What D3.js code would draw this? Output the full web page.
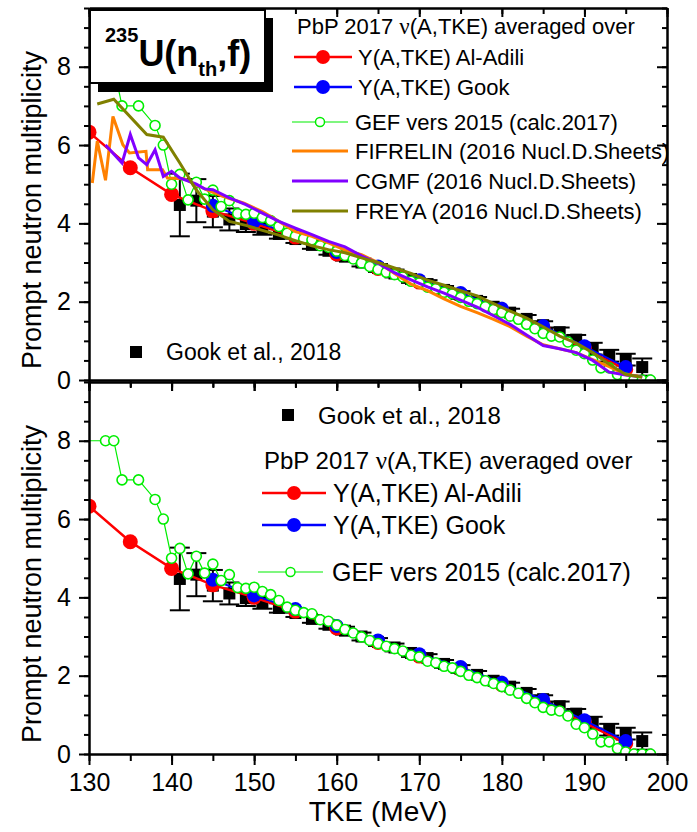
<!DOCTYPE html>
<html><head><meta charset="utf-8">
<script src="https://cdn.jsdelivr.net/npm/d3@7"></script>
<style>
body{margin:0;background:#fff}
text{font-family:"Liberation Sans",Arial,Helvetica,sans-serif;fill:#000}
</style>
</head><body>
<svg id="chart" width="697" height="832"></svg>
<script>
// ---- data: prompt neutron multiplicity vs total kinetic energy, 235U(nth,f) ----
// Point-by-point (PbP 2017) averaged over Y(A,TKE) of Al-Adili
const tkeAlAdili = [130,135,140,145,150,155,160,165,170,175,180,185,190,195];
const nuAlAdili  = [6.33,5.42,4.74,4.32,4.00,3.65,3.22,2.85,2.50,2.17,1.77,1.32,0.80,0.27];
// PbP 2017 averaged over Y(A,TKE) of Gook
const tkeGookY = [145,150,155,160,165,170,175,180,185,190,195];
const nuGookY  = [4.45,4.05,3.70,3.27,2.90,2.55,2.22,1.82,1.38,0.86,0.33];
// Gook et al., 2018 experimental points with uncertainties
const tkeExp = [141,143,145,147,149,151,153,155,157,159,161,163,165,167,169,171,173,175,177,179,181,183,185,187,189,191,193,195,197];
const nuExp  = [4.47,4.58,4.30,4.10,3.98,3.86,3.73,3.60,3.45,3.30,3.15,3.00,2.86,2.72,2.58,2.45,2.30,2.17,2.02,1.87,1.72,1.56,1.40,1.22,1.03,0.80,0.62,0.52,0.33];
const errExp = [0.80,0.55,0.40,0.28,0.20,0.15,0.12,0.10,0.10,0.10,0.10,0.10,0.10,0.10,0.10,0.10,0.10,0.10,0.10,0.10,0.10,0.10,0.10,0.12,0.12,0.15,0.15,0.15,0.22];
// GEF vers 2015 (calc. 2017)
const tkeGEF = [128,132,133,134,136,138,139,140,141,142,143,144,145,146,147,148,149,150,151,152,153,154,155,156,157,158,159,160,161,162,163,164,165,166,167,168,169,170,171,172,173,174,175,176,177,178,179,180,181,182,183,184,185,186,187,188,189,190,191,192,193,194,195,196,197,198];
const nuGEF  = [8.00,8.00,8.00,7.00,7.00,6.50,6.00,5.00,5.25,4.60,5.05,4.62,4.85,4.43,4.58,4.25,4.23,4.26,4.15,4.07,3.92,3.75,3.67,3.61,3.58,3.43,3.39,3.29,3.18,3.09,2.99,2.90,2.82,2.75,2.69,2.63,2.52,2.48,2.37,2.33,2.24,2.20,2.11,2.01,1.95,1.87,1.80,1.72,1.63,1.55,1.42,1.31,1.19,1.12,1.10,0.97,0.76,0.67,0.51,0.31,0.31,0.14,0.05,0.00,0.00,0.00];
// FIFRELIN (2016 Nucl. Data Sheets)
const tkeFIF = [130.4,131,132,132.9,134.1,134.9,136.9,137.1,138.9,139.5,141.5,143,144.2,146.2,148.7,151,153,155,157,159,161,163,165,167,169,171,173,175,177,179,181,183,185,187,189,191,193,195,196.5];
const nuFIF  = [5.03,6.10,5.10,6.73,6.01,5.80,5.84,5.37,5.37,5.16,5.14,4.98,4.86,4.69,4.52,4.30,4.05,3.79,3.67,3.50,3.32,3.20,3.00,2.72,2.45,2.28,2.07,1.88,1.72,1.55,1.36,1.12,0.90,0.80,0.70,0.52,0.34,0.14,0.10];
// CGMF (2016 Nucl. Data Sheets)
const tkeCGMF = [132,134,135,136,137,138,139,140,141,143,144,145,147,149,151,153,155,157,159,161,163,165,167,169,171,173,175,177,179,181,183,185,187,189,191,193,195,197];
const nuCGMF  = [6.00,5.54,6.27,5.67,5.50,5.88,5.20,5.33,5.16,5.00,4.88,4.86,4.65,4.48,4.26,4.05,3.88,3.71,3.54,3.40,3.17,2.98,2.74,2.56,2.38,2.22,2.04,1.86,1.64,1.42,1.15,0.88,0.80,0.70,0.50,0.20,0.13,0.08];
// FREYA (2016 Nucl. Data Sheets)
const tkeFREYA = [131,133,137,139,141,143,145,147,149,151,153,155,157,159,161,163,165,167,169,171,173,175,177,179,181,183,185,187,189,191,193,195,197];
const nuFREYA  = [7.05,7.17,6.27,6.20,5.54,4.85,4.35,4.05,3.95,3.82,3.70,3.56,3.43,3.33,3.25,3.12,3.00,2.86,2.72,2.55,2.42,2.28,2.15,1.95,1.76,1.58,1.36,1.12,0.94,0.70,0.40,0.14,0.07];

// axis ticks
const xMajor = [130,140,150,160,170,180,190,200];
const yMajor = [0,2,4,6,8];

const svg = d3.select("#chart");
const x = d3.scaleLinear().domain([130,200]).range([89,667]);
const yTop = d3.scaleLinear().domain([0,9.5]).range([380,8]);
const yBot = d3.scaleLinear().domain([0,9.5]).range([754,382]);

const C = {red:"#ff0000", blue:"#0000ff", green:"#00ee00", orange:"#ff8000", purple:"#8000ff", olive:"#808000"};

const zip = (a,b) => a.map((v,i)=>[v,b[i]]);

svg.append("defs").selectAll("clipPath").data([["clipTop",yTop],["clipBot",yBot]]).join("clipPath")
  .attr("id", d=>d[0])
  .append("rect").attr("x",89).attr("width",578)
  .attr("y", d=>d[1](9.5)).attr("height", d=>d[1](0)-d[1](9.5));

function frame(y, withXLabels){
  const g = svg.append("g");
  const minorX = d3.range(130,201,5);
  const minorY = d3.range(0,9.51,0.5);
  const style = sel => {
    sel.selectAll("path.domain").attr("stroke","#000").attr("stroke-width",2);
    sel.selectAll(".tick line").attr("stroke","#000").attr("stroke-width",2);
    sel.selectAll(".tick text").style("font-size","25px").style("font-family","Liberation Sans, Arial, sans-serif").attr("fill","#000");
  };
  // left
  g.append("g").attr("transform","translate(89,0)")
    .call(d3.axisLeft(y).tickValues(minorY).tickSize(5).tickSizeOuter(0).tickFormat("")).call(style);
  g.append("g").attr("transform","translate(89,0)")
    .call(d3.axisLeft(y).tickValues(yMajor).tickSize(10).tickSizeOuter(0).tickPadding(8).tickFormat(d3.format("d"))).call(style);
  // right (inward)
  g.append("g").attr("transform","translate(667,0)")
    .call(d3.axisRight(y).tickValues(minorY).tickSize(-5).tickSizeOuter(0).tickFormat("")).call(style);
  g.append("g").attr("transform","translate(667,0)")
    .call(d3.axisRight(y).tickValues(yMajor).tickSize(-10).tickSizeOuter(0).tickFormat("")).call(style);
  // top (inward)
  g.append("g").attr("transform",`translate(0,${y(9.5)})`)
    .call(d3.axisTop(x).tickValues(minorX).tickSize(-6).tickSizeOuter(0).tickFormat("")).call(style);
  g.append("g").attr("transform",`translate(0,${y(9.5)})`)
    .call(d3.axisTop(x).tickValues(xMajor).tickSize(-9).tickSizeOuter(0).tickFormat("")).call(style);
  // bottom (outward)
  g.append("g").attr("transform",`translate(0,${y(0)})`)
    .call(d3.axisBottom(x).tickValues(minorX).tickSize(7).tickSizeOuter(0).tickFormat("")).call(style);
  g.append("g").attr("transform",`translate(0,${y(0)})`)
    .call(d3.axisBottom(x).tickValues(xMajor).tickSize(11).tickSizeOuter(0).tickPadding(8)
      .tickFormat(withXLabels ? d3.format("d") : "")).call(style);
  // y title
  const cy = (y(0)+y(9.5))/2 + 16;
  svg.append("text").attr("transform",`translate(41,${cy}) rotate(-90)`)
    .attr("text-anchor","middle").style("font-size","27px").text("Prompt neutron multiplicity");
}

function expPoints(g, y){
  const d = tkeExp.map((t,i)=>({t, v:nuExp[i], e:errExp[i]}));
  const eg = g.append("g").attr("stroke","#000").attr("stroke-width",2);
  eg.selectAll("line.v").data(d).join("line")
    .attr("x1",p=>x(p.t)).attr("x2",p=>x(p.t)).attr("y1",p=>y(p.v+p.e)).attr("y2",p=>y(p.v-p.e));
  eg.selectAll("line.c1").data(d).join("line")
    .attr("x1",p=>x(p.t)-10).attr("x2",p=>x(p.t)+10).attr("y1",p=>y(p.v+p.e)).attr("y2",p=>y(p.v+p.e));
  eg.selectAll("line.c2").data(d).join("line")
    .attr("x1",p=>x(p.t)-10).attr("x2",p=>x(p.t)+10).attr("y1",p=>y(p.v-p.e)).attr("y2",p=>y(p.v-p.e));
  g.append("g").selectAll("rect").data(d).join("rect")
    .attr("x",p=>x(p.t)-6).attr("y",p=>y(p.v)-6).attr("width",12).attr("height",12).attr("fill","#000");
}

function markerSeries(g, y, tk, nu, color, r, lw){
  const pts = zip(tk,nu);
  g.append("path").datum(pts).attr("fill","none").attr("stroke",color).attr("stroke-width",lw)
    .attr("d", d3.line().x(d=>x(d[0])).y(d=>y(d[1])));
  g.append("g").selectAll("circle").data(pts).join("circle")
    .attr("cx",d=>x(d[0])).attr("cy",d=>y(d[1])).attr("r",r).attr("fill",color);
}

function gefSeries(g, y){
  const pts = zip(tkeGEF,nuGEF);
  g.append("path").datum(pts).attr("fill","none").attr("stroke",C.green).attr("stroke-width",1.2)
    .attr("d", d3.line().x(d=>x(d[0])).y(d=>y(d[1])));
  g.append("g").selectAll("circle").data(pts).join("circle")
    .attr("cx",d=>x(d[0])).attr("cy",d=>y(d[1])).attr("r",5)
    .attr("fill","#fff").attr("stroke",C.green).attr("stroke-width",1.6);
}

function lineSeries(g, y, tk, nu, color){
  g.append("path").datum(zip(tk,nu)).attr("fill","none").attr("stroke",color).attr("stroke-width",3)
    .attr("stroke-linejoin","miter")
    .attr("d", d3.line().x(d=>x(d[0])).y(d=>y(d[1])));
}

// ---------- upper panel ----------
const gTop = svg.append("g").attr("clip-path","url(#clipTop)");
expPoints(gTop, yTop);
markerSeries(gTop, yTop, tkeAlAdili, nuAlAdili, C.red, 7.5, 2.5);
markerSeries(gTop, yTop, tkeGookY, nuGookY, C.blue, 7, 2);
gefSeries(gTop, yTop);
lineSeries(gTop, yTop, tkeFIF, nuFIF, C.orange);
lineSeries(gTop, yTop, tkeCGMF, nuCGMF, C.purple);
lineSeries(gTop, yTop, tkeFREYA, nuFREYA, C.olive);
frame(yTop, false);

// ---------- lower panel ----------
const gBot = svg.append("g").attr("clip-path","url(#clipBot)");
expPoints(gBot, yBot);
markerSeries(gBot, yBot, tkeAlAdili, nuAlAdili, C.red, 7.5, 2.5);
markerSeries(gBot, yBot, tkeGookY, nuGookY, C.blue, 7, 2);
gefSeries(gBot, yBot);
frame(yBot, true);

svg.append("text").attr("x",378).attr("y",821).attr("text-anchor","middle")
  .style("font-size","28px").text("TKE (MeV)");

// ---------- reaction label box ----------
const box = svg.append("g");
box.append("rect").attr("x",98).attr("y",18).attr("width",175).attr("height",74).attr("fill","#000");
box.append("rect").attr("x",90).attr("y",10).attr("width",175).attr("height",73)
  .attr("fill","#fff").attr("stroke","#000").attr("stroke-width",2);
const lbl = box.append("text").attr("x",105).attr("y",66).style("font-weight","bold");
lbl.append("tspan").style("font-size","20px").attr("dy",-24).text("235");
lbl.append("tspan").style("font-size","36px").attr("dy",24).text("U(n");
lbl.append("tspan").style("font-size","20px").attr("dy",10).text("th");
lbl.append("tspan").style("font-size","36px").attr("dy",-10).text(",f)");

// ---------- legends ----------
function legendTitle(xp, yp, fs){
  const t = svg.append("text").attr("x",xp).attr("y",yp).style("font-size",fs+"px");
  t.append("tspan").text("PbP 2017 ");
  t.append("tspan").style("font-family","Liberation Serif, Times New Roman, serif").style("font-size",(fs+1)+"px").text("\u03bd");
  t.append("tspan").text("(A,TKE) averaged over");
}
function legendRow(kind, x0, x1, yp, color, label, tx, fs){
  svg.append("line").attr("x1",x0).attr("x2",x1).attr("y1",yp).attr("y2",yp)
    .attr("stroke",color).attr("stroke-width", kind==="gef" ? 1.2 : (kind==="line" ? 3 : 2.5));
  const mx = (x0+x1)/2;
  if (kind==="dot") svg.append("circle").attr("cx",mx).attr("cy",yp).attr("r",7).attr("fill",color);
  if (kind==="gef") svg.append("circle").attr("cx",mx).attr("cy",yp).attr("r",4.5)
    .attr("fill","#fff").attr("stroke",color).attr("stroke-width",1.5);
  svg.append("text").attr("x",tx).attr("y",yp+0.36*fs).style("font-size",fs+"px").text(label);
}
function expLegend(xp, yp, tx, fs){
  svg.append("rect").attr("x",xp-6).attr("y",yp-6).attr("width",12).attr("height",12).attr("fill","#000");
  svg.append("text").attr("x",tx).attr("y",yp+0.36*fs).style("font-size",fs+"px").text("Gook et al., 2018");
}

// upper legend
legendTitle(297, 34, 22);
legendRow("dot", 294, 352, 57, C.red, "Y(A,TKE) Al-Adili", 358, 22);
legendRow("dot", 294, 352, 87, C.blue, "Y(A,TKE) Gook", 358, 22);
legendRow("gef", 292, 348, 122, C.green, "GEF vers 2015 (calc.2017)", 355, 22);
legendRow("line", 292, 348, 151, C.orange, "FIFRELIN (2016 Nucl.D.Sheets)", 355, 22);
legendRow("line", 292, 348, 181, C.purple, "CGMF (2016 Nucl.D.Sheets)", 355, 22);
legendRow("line", 292, 348, 211, C.olive, "FREYA (2016 Nucl.D.Sheets)", 355, 22);
expLegend(136, 352, 166, 23);

// lower legend
expLegend(288, 415, 318, 24);
legendTitle(264, 469, 24);
legendRow("dot", 262, 326, 493, C.red, "Y(A,TKE) Al-Adili", 333, 25);
legendRow("dot", 262, 326, 525, C.blue, "Y(A,TKE) Gook", 333, 25);
legendRow("gef", 258, 323, 572, C.green, "GEF vers 2015 (calc.2017)", 332, 25);
</script>
</body></html>
